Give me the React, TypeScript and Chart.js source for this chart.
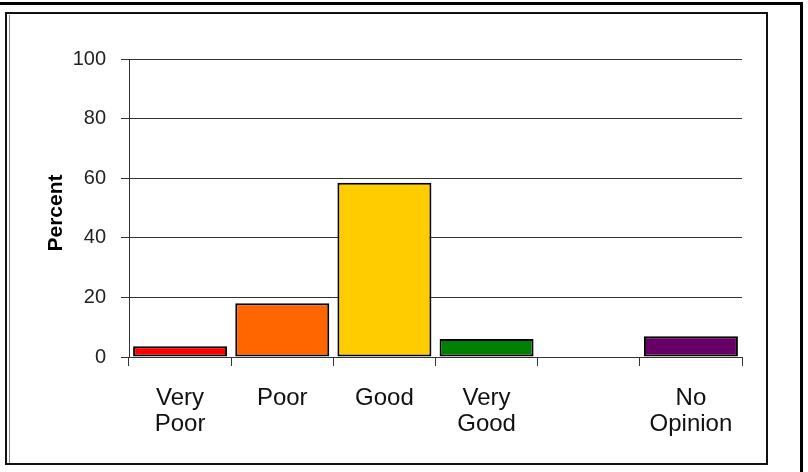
import React, { useEffect, useRef } from "react";
import { Chart, registerables } from "chart.js";

Chart.register(...registerables);

const categories: string[][] = [["Very", "Poor"], ["Poor"], ["Good"], ["Very", "Good"], [""], ["No", "Opinion"]];
const percentValues: (number | null)[] = [3.6, 18, 58.5, 6, null, 7];
const barColors: string[] = ["#FF0000", "#FF6600", "#FFCC00", "#008000", "#FFFFFF", "#660066"];
const yAxisTitle = "Percent";
const yMin = 0;
const yMax = 100;
const yStep = 20;

const FONT = "'Liberation Sans', Arial, sans-serif";

const framePlugin = {
  id: "frame",
  beforeDraw(chart: any) {
    const ctx = chart.ctx;
    ctx.save();
    ctx.fillStyle = "#ffffff";
    ctx.fillRect(0, 0, chart.width, chart.height);
    // outer heavy lines (top and right)
    ctx.fillStyle = "#000000";
    ctx.fillRect(0, 2, 803, 3);
    ctx.fillRect(800, 2, 3, 470);
    // inner frame
    ctx.strokeStyle = "#111111";
    ctx.lineWidth = 2;
    ctx.strokeRect(6, 13, 761, 451);
    ctx.strokeStyle = "#888888";
    ctx.lineWidth = 1;
    ctx.beginPath();
    ctx.moveTo(9.5, 15);
    ctx.lineTo(9.5, 463);
    ctx.stroke();
    ctx.restore();
  },
  afterDraw(chart: any) {
    const ctx = chart.ctx;
    const area = chart.chartArea;
    ctx.save();
    ctx.translate(56, (area.top + area.bottom) / 2 + 5);
    ctx.rotate(-Math.PI / 2);
    ctx.fillStyle = "#000000";
    ctx.font = `bold 21px ${FONT}`;
    ctx.textAlign = "center";
    ctx.textBaseline = "middle";
    ctx.fillText(yAxisTitle, 0, 0);
    ctx.restore();
  },
};

export default function App() {
  const canvasRef = useRef<HTMLCanvasElement | null>(null);

  useEffect(() => {
    if (!canvasRef.current) return;
    const chart = new Chart(canvasRef.current, {
      type: "bar",
      data: {
        labels: categories,
        datasets: [
          {
            data: percentValues,
            backgroundColor: barColors,
            borderColor: "#000000",
            borderWidth: 2,
            borderSkipped: false,
            barPercentage: 0.92,
            categoryPercentage: 1,
          },
        ],
      },
      options: {
        responsive: false,
        animation: false,
        devicePixelRatio: 1,
        layout: { padding: { top: 59, right: 66, left: 0, bottom: 0 } },
        plugins: {
          legend: { display: false },
          tooltip: { enabled: false },
        },
        scales: {
          x: {
            offset: true,
            grid: {
              offset: true,
              drawOnChartArea: false,
              drawTicks: true,
              tickLength: 9,
              color: "#333333",
            },
            border: { display: true, color: "#333333", width: 1 },
            ticks: {
              color: "#111111",
              padding: 19,
              maxRotation: 0,
              autoSkip: false,
              font: { family: FONT, size: 24, lineHeight: 1.083 },
            },
            afterFit: (s: any) => {
              s.height = 115;
              s.paddingLeft = 0;
              s.paddingRight = 0;
            },
          },
          y: {
            min: yMin,
            max: yMax,
            ticks: {
              stepSize: yStep,
              color: "#222222",
              padding: 15,
              font: { family: FONT, size: 20 },
            },
            grid: {
              color: "#333333",
              tickLength: 8,
              drawTicks: true,
            },
            border: { display: true, color: "#333333", width: 1 },
            title: { display: false },
            afterFit: (s: any) => {
              s.width = 129;
              s.paddingTop = 0;
              s.paddingBottom = 0;
            },
          },
        },
      },
      plugins: [framePlugin],
    });
    return () => chart.destroy();
  }, []);

  return (
    <div style={{ position: "fixed", left: 0, top: 0, width: 808, height: 472, background: "#fff" }}>
      <canvas ref={canvasRef} width={808} height={472} style={{ display: "block", width: 808, height: 472 }} />
    </div>
  );
}
